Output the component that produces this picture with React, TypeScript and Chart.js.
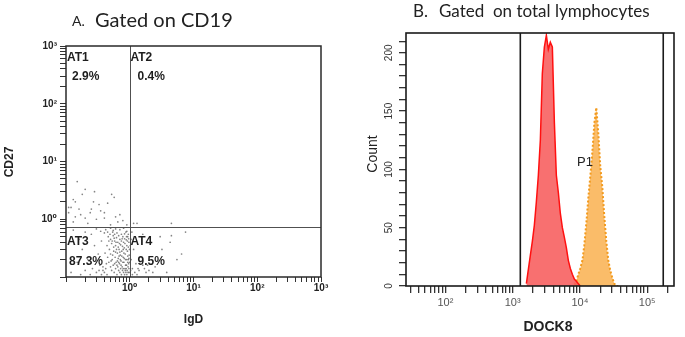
import { useEffect, useRef } from "react";
import { Chart, registerables } from "chart.js";

Chart.register(...registerables);

// ---------------- Panel A: CD27 vs IgD (gated on CD19) ----------------
const AT1_POINTS: [number, number][] = [
  [0.15, 4.5], [0.18, 2.7], [0.13, 2.2], [0.27, 2.0], [0.25, 1.5], [0.33, 1.8], [0.52, 2.7], [0.57, 2.4],
  [0.12, 1.6], [0.16, 1.5], [0.2, 1.05], [0.4, 1.05], [0.3, 1.0], [0.7, 1.2], [0.78, 0.95], [0.11, 1.6],
  [0.11, 1.3], [0.14, 2.0], [0.2, 3.3], [0.24, 1.3], [0.35, 1.4], [0.45, 1.9], [0.6, 1.1], [0.17, 1.2],
  [0.13, 0.9], [0.22, 0.85], [0.5, 0.8], [0.65, 0.9], [0.4, 1.3], [0.28, 3.0], [0.9, 0.8], [0.14, 1.1],
];
const AT2_POINTS: [number, number][] = [[1.15, 0.85], [1.3, 0.85], [4.5, 0.85]];
const AT3_POINTS: [number, number][] = [
  [0.13, 0.65], [0.16, 0.45], [0.2, 0.6], [0.25, 0.55], [0.3, 0.68], [0.35, 0.62], [0.4, 0.58], [0.18, 0.3],
  [0.22, 0.2], [0.28, 0.35], [0.32, 0.25], [0.36, 0.42], [0.42, 0.66], [0.15, 0.18], [0.12, 0.12], [0.26, 0.14],
  [0.3, 0.12], [0.34, 0.16], [0.38, 0.13], [0.24, 0.11], [0.2, 0.13], [0.17, 0.11], [0.45, 0.6], [0.5, 0.7],
  [0.55, 0.64], [0.6, 0.68], [0.7, 0.66], [0.8, 0.7], [0.9, 0.62], [0.95, 0.55],
  [0.46, 0.5], [0.5, 0.45], [0.52, 0.38], [0.55, 0.52], [0.58, 0.42], [0.6, 0.35], [0.62, 0.48], [0.65, 0.4],
  [0.68, 0.3], [0.7, 0.45], [0.72, 0.36], [0.75, 0.28], [0.78, 0.5], [0.8, 0.4], [0.82, 0.32], [0.85, 0.25],
  [0.88, 0.44], [0.9, 0.35], [0.92, 0.28], [0.95, 0.2], [0.97, 0.4], [0.99, 0.3],
  [0.48, 0.3], [0.5, 0.25], [0.53, 0.2], [0.56, 0.28], [0.59, 0.22], [0.61, 0.18], [0.64, 0.26], [0.66, 0.21],
  [0.69, 0.17], [0.71, 0.24], [0.73, 0.19], [0.76, 0.15], [0.79, 0.22], [0.81, 0.18], [0.84, 0.14], [0.86, 0.2],
  [0.89, 0.16], [0.91, 0.13], [0.93, 0.23], [0.96, 0.17], [0.98, 0.12],
  [0.47, 0.18], [0.5, 0.15], [0.52, 0.13], [0.55, 0.16], [0.57, 0.12], [0.6, 0.14], [0.63, 0.11], [0.65, 0.15],
  [0.67, 0.13], [0.7, 0.12], [0.72, 0.14], [0.74, 0.11], [0.77, 0.13], [0.8, 0.12], [0.83, 0.11], [0.85, 0.13],
  [0.87, 0.12], [0.9, 0.11], [0.94, 0.12], [0.97, 0.14],
  [0.42, 0.14], [0.4, 0.12], [0.44, 0.11], [0.36, 0.11], [0.33, 0.13], [0.38, 0.15], [0.43, 0.17], [0.45, 0.22],
  [0.41, 0.26], [0.44, 0.35], [0.47, 0.42], [0.49, 0.55], [0.54, 0.6], [0.58, 0.55], [0.63, 0.58], [0.67, 0.52],
  [0.74, 0.55], [0.83, 0.56], [0.87, 0.6], [0.93, 0.5],
  [0.62, 0.3], [0.66, 0.33], [0.7, 0.27], [0.74, 0.42], [0.77, 0.34], [0.81, 0.26], [0.84, 0.38], [0.88, 0.3],
  [0.92, 0.42], [0.95, 0.33], [0.98, 0.24], [0.56, 0.33], [0.6, 0.27], [0.64, 0.19], [0.68, 0.23], [0.73, 0.16],
  [0.78, 0.18], [0.82, 0.21], [0.86, 0.16], [0.9, 0.2], [0.94, 0.15], [0.99, 0.18],
  [0.53, 0.42], [0.57, 0.47], [0.61, 0.4], [0.69, 0.38], [0.76, 0.46], [0.79, 0.3], [0.83, 0.46], [0.89, 0.5],
  [0.96, 0.46], [0.51, 0.19], [0.54, 0.24], [0.58, 0.17], [0.63, 0.16], [0.67, 0.18], [0.71, 0.2], [0.75, 0.23],
  [0.79, 0.14], [0.88, 0.14], [0.93, 0.18], [0.97, 0.21],
];
const AT4_POINTS: [number, number][] = [
  [4.5, 0.52], [4.3, 0.4], [7.5, 0.6], [6.5, 0.25], [3.2, 0.3], [5.5, 0.2], [1.6, 0.16], [2.0, 0.13],
  [2.5, 0.15], [1.2, 0.12], [1.1, 0.14], [1.3, 0.11], [1.05, 0.2], [1.15, 0.3], [1.05, 0.45], [1.4, 0.13],
  [1.8, 0.12], [1.1, 0.11], [1.25, 0.17], [1.02, 0.35], [1.08, 0.6], [3.0, 0.5], [2.2, 0.4], [1.6, 0.55],
  [3.8, 0.12], [1.35, 0.14], [1.7, 0.14], [1.9, 0.16], [2.3, 0.12], [1.03, 0.13],
];
const QUADRANT_NAMES = ["AT1", "AT2", "AT3", "AT4"];
const QUADRANT_PERCENTS = ["2.9%", "0.4%", "87.3%", "9.5%"];
const A_GATE_IGD = 1;
const A_GATE_CD27 = 0.72;
const A_MIN = 0.1;
const A_MAX = 1000;
const A_DECADES = [0.1, 1, 10, 100];
const A_LABEL_VALUES = [1, 10, 100, 1000];
const A_LABELS = ["10\u2070", "10\u00b9", "10\u00b2", "10\u00b3"];

// ---------------- Panel B: DOCK8 histogram ----------------
const DOCK8_BINS = [
  1600, 1710, 1830, 1960, 2100, 2250, 2410, 2580, 2760, 2960, 3170, 3390, 3630, 3890, 4170, 4460,
  4780, 5120, 5480, 5860, 6280, 6720, 7200, 7710, 8260, 8840, 9470, 10100, 10900, 11600, 12500, 13300,
  14300, 15300, 16400, 17500, 18800, 20100, 21500, 23000, 24700, 26400, 28300, 30300, 32400, 34700, 37200,
];
const RED_COUNTS: (number | null)[] = [
  2, 14, 26, 38, 52, 72, 95, 125, 182, 205, 215, 203, 209, 205, 140, 95,
  80, 62, 50, 42, 33, 22, 15, 10, 6, 4, 2, 0, null, null, null, null,
  null, null, null, null, null, null, null, null, null, null, null, null, null, null, null,
];
const P1_COUNTS: (number | null)[] = [
  null, null, null, null, null, null, null, null, null, null, null, null, null, null, null, null,
  null, null, null, null, null, null, null, null, 1, 4, 10, 15, 22, 35, 55, 75,
  95, 115, 140, 153, 130, 102, 85, 60, 38, 22, 13, 7, 2, 0, 0,
];
const B_GATES = [1300, 173000];
const B_X_MIN = 26;
const B_X_MAX = 250000;
const B_Y_MAX = 217;
const B_DECADES = [10, 100, 1000, 10000, 100000];
const B_X_LABEL_VALUES = [100, 1000, 10000, 100000];
const B_X_LABELS = ["10\u00b2", "10\u00b3", "10\u2074", "10\u2075"];
const B_Y_LABEL_VALUES = [0, 50, 100, 150, 200];
const B_Y_MINOR_STEP = 10;
const P1_LABEL_POS = { x: 11500, y: 106 };

const LOG_MULTS = [1, 2, 3, 4, 5, 6, 7, 8, 9];
const SANS = '"Liberation Sans", Arial, "DejaVu Sans", sans-serif';

function logTicks(decades: number[], min: number, max: number): number[] {
  const out: number[] = [];
  decades.forEach((d) => LOG_MULTS.forEach((m) => out.push(+(d * m).toPrecision(6))));
  out.push(+(decades[decades.length - 1] * 10).toPrecision(6));
  return out.filter((v) => v >= min * 0.9999 && v <= max * 1.0001);
}

function labelFor(values: number[], labels: string[], v: number): string {
  const i = values.findIndex((t) => Math.abs(t - v) <= Math.abs(t) * 1e-6 + 1e-9);
  return i >= 0 ? labels[i] : "";
}

const toXY = (pts: [number, number][]) => pts.map(([x, y]) => ({ x, y }));

const panelAPlugin = {
  id: "panelA",
  afterDraw(chart: any) {
    const { ctx, chartArea: ca, scales } = chart;
    const gx = Math.round(scales.x.getPixelForValue(A_GATE_IGD)) + 0.5;
    const gy = Math.round(scales.y.getPixelForValue(A_GATE_CD27)) + 0.5;
    ctx.save();
    ctx.strokeStyle = "#505050";
    ctx.lineWidth = 1;
    ctx.beginPath();
    ctx.moveTo(gx, ca.top);
    ctx.lineTo(gx, ca.bottom);
    ctx.moveTo(ca.left, gy);
    ctx.lineTo(ca.right, gy);
    ctx.stroke();
    ctx.strokeStyle = "#2a2a2a";
    ctx.lineWidth = 1.5;
    ctx.strokeRect(ca.left, ca.top, ca.right - ca.left, ca.bottom - ca.top);

    ctx.fillStyle = "#1e1e1e";
    ctx.font = `bold 12px ${SANS}`;
    ctx.textBaseline = "middle";
    ctx.textAlign = "left";
    const lefts = [ca.left + 1, gx, ca.left + 1, gx];
    const pctLefts = [ca.left + 6, gx + 7, ca.left + 3, gx + 7];
    const nameYs = [ca.top + 12, ca.top + 12, gy + 14, gy + 14];
    const pctYs = [ca.top + 31, ca.top + 31, gy + 34, gy + 34];
    QUADRANT_NAMES.forEach((n, i) => {
      ctx.fillText(n, lefts[i], nameYs[i]);
      ctx.fillText(QUADRANT_PERCENTS[i], pctLefts[i], pctYs[i]);
    });

    // titles
    ctx.fillStyle = "#222";
    ctx.textBaseline = "alphabetic";
    ctx.font = `14px Lato, "Open Sans", sans-serif`;
    ctx.fillText("A.", 72, 26);
    ctx.font = `20px Lato, "Open Sans", sans-serif`;
    ctx.fillText("Gated on CD19", 95, 27);

    ctx.font = `bold 12px ${SANS}`;
    ctx.textAlign = "center";
    ctx.textBaseline = "middle";
    ctx.fillText("IgD", (ca.left + ca.right) / 2, 320);
    ctx.translate(10, 162);
    ctx.rotate(-Math.PI / 2);
    ctx.fillText("CD27", 0, 0);
    ctx.restore();
  },
};

const panelBPlugin = {
  id: "panelB",
  afterDraw(chart: any) {
    const { ctx, chartArea: ca, scales } = chart;
    ctx.save();
    ctx.strokeStyle = "#1a1a1a";
    ctx.lineWidth = 1.6;
    ctx.beginPath();
    B_GATES.forEach((g) => {
      const px = scales.x.getPixelForValue(g);
      ctx.moveTo(px, ca.top);
      ctx.lineTo(px, ca.bottom);
    });
    ctx.stroke();
    ctx.strokeRect(ca.left, ca.top, ca.right - ca.left, ca.bottom - ca.top);

    ctx.fillStyle = "#222";
    ctx.font = `13px ${SANS}`;
    ctx.textAlign = "left";
    ctx.textBaseline = "middle";
    ctx.fillText("P1", scales.x.getPixelForValue(P1_LABEL_POS.x) - 7, scales.y.getPixelForValue(P1_LABEL_POS.y));

    ctx.textBaseline = "alphabetic";
    ctx.font = `17px Lato, "Open Sans", sans-serif`;
    ctx.fillText("B.", 73, 17);
    ctx.fillText("Gated  on total lymphocytes", 99, 17);

    ctx.textAlign = "center";
    ctx.textBaseline = "middle";
    ctx.font = `bold 14px ${SANS}`;
    ctx.fillText("DOCK8", 208, 327);
    ctx.font = `14px ${SANS}`;
    ctx.translate(33, 154);
    ctx.rotate(-Math.PI / 2);
    ctx.fillText("Count", 0, 0);
    ctx.restore();
  },
};

export default function App() {
  const aRef = useRef<HTMLCanvasElement>(null);
  const bRef = useRef<HTMLCanvasElement>(null);

  useEffect(() => {
    const aTicks = logTicks(A_DECADES, A_MIN, A_MAX);
    const bxTicks = logTicks(B_DECADES, B_X_MIN, B_X_MAX);
    const byTicks: number[] = [];
    for (let v = 0; v <= B_Y_MAX; v += B_Y_MINOR_STEP) byTicks.push(v);

    const scatterDs = (pts: [number, number][]) => ({
      data: toXY(pts),
      pointRadius: 0.85,
      pointBorderWidth: 0,
      pointBackgroundColor: "rgba(80,80,80,0.7)",
    });

    const logAxisA = (axis: "x" | "y") => ({
      type: "logarithmic" as const,
      min: A_MIN,
      max: A_MAX,
      afterBuildTicks: (s: any) => {
        s.ticks = aTicks.map((v) => ({ value: v }));
      },
      afterFit: (s: any) => {
        if (axis === "x") s.height = 60;
        else s.width = 66;
      },
      border: { display: false },
      grid: { drawOnChartArea: false, drawTicks: true, tickLength: axis === "x" ? 5 : 6, tickColor: "#333" },
      ticks: {
        autoSkip: false,
        maxRotation: 0,
        minRotation: 0,
        padding: axis === "x" ? 0 : 3,
        color: "#222",
        font: { family: SANS, size: 10, weight: "bold" as const },
        callback: (v: any) => labelFor(A_LABEL_VALUES, A_LABELS, Number(v)),
      },
    });

    const ca = new Chart(aRef.current!, {
      type: "scatter",
      data: {
        datasets: [scatterDs(AT1_POINTS), scatterDs(AT2_POINTS), scatterDs(AT3_POINTS), scatterDs(AT4_POINTS)],
      },
      options: {
        animation: false,
        responsive: false,
        events: [],
        layout: { padding: { left: 0, right: 19, top: 46, bottom: 0 } },
        plugins: { legend: { display: false }, tooltip: { enabled: false } },
        scales: { x: logAxisA("x") as any, y: logAxisA("y") as any },
      },
      plugins: [panelAPlugin],
    });

    const cb = new Chart(bRef.current!, {
      type: "line",
      data: {
        datasets: [
          {
            label: "control",
            data: DOCK8_BINS.map((x, i) => ({ x, y: RED_COUNTS[i] })) as any,
            borderColor: "#ff1010",
            borderWidth: 1.5,
            backgroundColor: "rgba(247,92,92,0.88)",
            fill: "origin",
            pointRadius: 0,
            tension: 0,
            spanGaps: false,
          },
          {
            label: "P1",
            data: DOCK8_BINS.map((x, i) => ({ x, y: P1_COUNTS[i] })) as any,
            borderColor: "#f29a1e",
            borderWidth: 2,
            borderDash: [2, 2],
            backgroundColor: "rgba(250,182,92,0.92)",
            fill: "origin",
            pointRadius: 0,
            tension: 0,
            spanGaps: false,
          },
        ],
      },
      options: {
        animation: false,
        responsive: false,
        events: [],
        layout: { padding: { left: 0, right: 11, top: 33, bottom: 0 } },
        plugins: { legend: { display: false }, tooltip: { enabled: false } },
        scales: {
          x: {
            type: "logarithmic",
            min: B_X_MIN,
            max: B_X_MAX,
            afterBuildTicks: (s: any) => {
              s.ticks = bxTicks.map((v) => ({ value: v }));
            },
            afterFit: (s: any) => {
              s.height = 51;
            },
            border: { display: false },
            grid: { drawOnChartArea: false, tickLength: 7, tickColor: "#333", lineWidth: 1.3 },
            ticks: {
              autoSkip: false,
              maxRotation: 0,
              minRotation: 0,
              padding: 3,
              color: "#555",
              font: { family: SANS, size: 11 },
              callback: (v: any) => labelFor(B_X_LABEL_VALUES, B_X_LABELS, Number(v)),
            },
          },
          y: {
            type: "linear",
            min: 0,
            max: B_Y_MAX,
            afterBuildTicks: (s: any) => {
              s.ticks = byTicks.map((v) => ({ value: v }));
            },
            afterFit: (s: any) => {
              s.width = 66;
            },
            border: { display: false },
            grid: { drawOnChartArea: false, tickLength: 7, tickColor: "#333", lineWidth: 1.3 },
            ticks: {
              autoSkip: false,
              minRotation: 90,
              maxRotation: 90,
              crossAlign: "center",
              padding: 1,
              color: "#333",
              font: { family: SANS, size: 10 },
              callback: (v: any) => labelFor(B_Y_LABEL_VALUES, B_Y_LABEL_VALUES.map(String), Number(v)),
            },
          },
        },
      },
      plugins: [panelBPlugin],
    });

    return () => {
      ca.destroy();
      cb.destroy();
    };
  }, []);

  return (
    <div style={{ position: "fixed", left: 0, top: 0, width: 685, height: 337, background: "#fff" }}>
      <canvas ref={aRef} width={340} height={337} style={{ position: "absolute", left: 0, top: 0 }} />
      <canvas ref={bRef} width={345} height={337} style={{ position: "absolute", left: 340, top: 0 }} />
    </div>
  );
}
